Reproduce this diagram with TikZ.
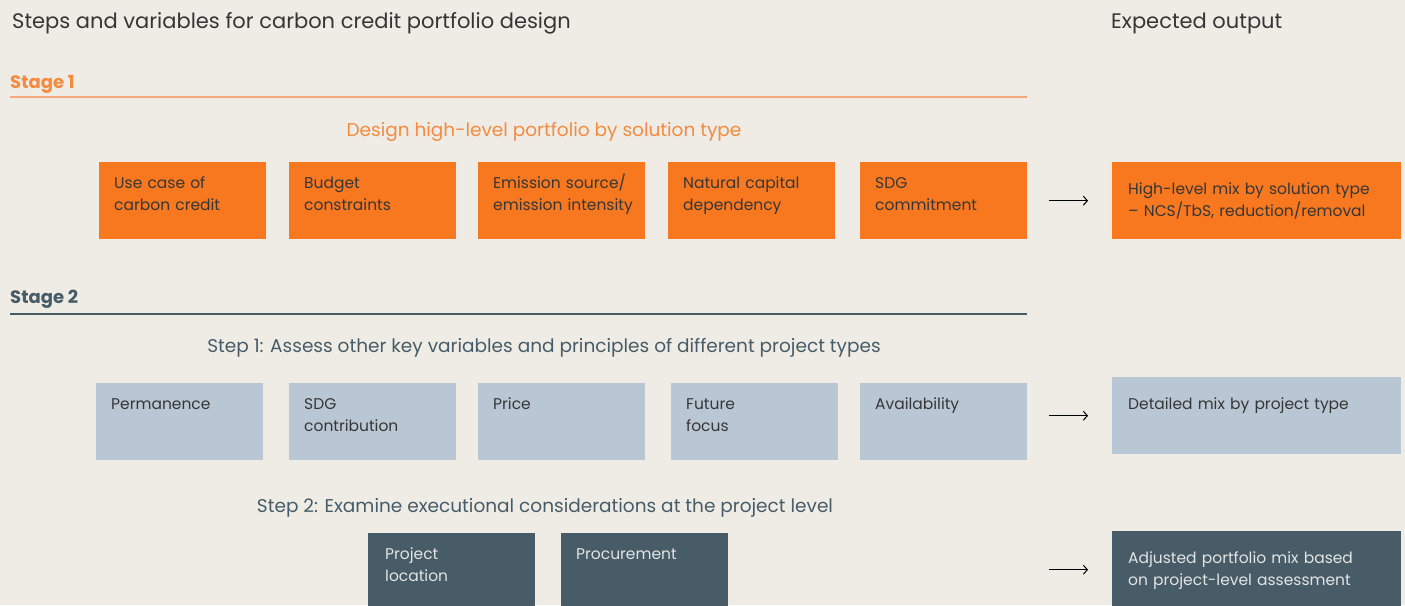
\documentclass[tikz,border=0pt]{standalone}
\usepackage{fontspec}
\setmainfont{Poppins}
\usetikzlibrary{positioning,arrows.meta}

\definecolor{paper}{HTML}{EFECE6}
\definecolor{carrot}{HTML}{F7781F}
\definecolor{peach}{HTML}{F4A97C}
\definecolor{tangerine}{HTML}{F68A3E}
\definecolor{mist}{HTML}{B9C7D4}
\definecolor{slate}{HTML}{475C66}
\definecolor{ink}{HTML}{363636}
\definecolor{chalk}{HTML}{E2E4E4}

\tikzset{
  heading/.style={anchor=base west,font=\fontsize{21}{25}\selectfont,text=ink,inner sep=0pt},
  stagelabel/.style={anchor=base west,font=\bfseries\fontsize{18}{20}\selectfont,inner sep=0pt},
  steplabel/.style={anchor=base,font=\fontsize{18.5}{22}\selectfont,inner sep=0pt},
  cell/.style={anchor=north west,minimum width=167pt,inner xsep=15pt,inner ysep=0pt,
    text width=137pt,align=left,text height=26pt,text depth=51pt,
    font=\fontsize{15.5}{22}\selectfont},
  outcell/.style={anchor=north west,minimum width=289pt,inner xsep=16pt,inner ysep=0pt,
    text width=257pt,align=left,text height=32pt,text depth=45pt,
    font=\fontsize{15.5}{22}\selectfont},
  hot/.style={fill=carrot,text=ink},
  cool/.style={fill=mist,text=ink},
  deep/.style={fill=slate,text=chalk},
  flow/.style={-{Straight Barb[length=4pt,width=9pt]},line width=1pt,shorten >=24pt}
}

\begin{document}
\begin{tikzpicture}[x=1pt,y=-1pt]
\fill[paper] (0,0) rectangle (1405,605);
\useasboundingbox (0,0) rectangle (1405,605);
\clip (0,0) rectangle (1405,605);

% titles
\node[heading] (title) at (12,28) {Steps and variables for carbon credit portfolio design};
\node[heading] (expected) at (1111,28) {Expected output};

% stage 1
\node[stagelabel,text=tangerine] (stage1) at (10,88) {Stage 1};
\draw[peach,line width=1.5pt] (10,97) -- (1027,97);
\node[steplabel,text=tangerine] (design) at (544,136) {Design high-level portfolio by solution type};

\node[cell,hot] (usecase) at (99,162) {Use case of\\carbon credit};
\node[cell,hot] (budget) at (289,162) {Budget\\constraints};
\node[cell,hot] (emission) at (478,162) {Emission source/\\\mbox{emission intensity}};
\node[cell,hot] (natcap) at (668,162) {Natural capital\\dependency};
\node[cell,hot] (sdgcom) at (860,162) {SDG\\commitment};
\node[outcell,hot] (mixsol) at (1112,162) {High-level mix by solution type\\-- NCS/TbS, reduction/removal};

% stage 2
\node[stagelabel,text=slate] (stage2) at (10,303) {Stage 2};
\draw[slate,line width=1.2pt] (10,314) -- (1027,314);
\node[steplabel,text=slate] (stepone) at (544,352) {Step 1: Assess other key variables and principles of different project types};

\node[cell,cool] (perm) at (96,383) {Permanence};
\node[cell,cool] (sdgcon) at (289,383) {SDG\\contribution};
\node[cell,cool] (price) at (478,383) {Price};
\node[cell,cool] (future) at (671,383) {Future\\focus};
\node[cell,cool] (avail) at (860,383) {Availability};
\node[outcell,cool] (mixproj) at (1112,377) {Detailed mix by project type};

\node[steplabel,text=slate] (steptwo) at (545,512) {Step 2: Examine executional considerations at the project level};

\node[cell,deep,inner xsep=17pt,text width=133pt] (location) at (368,533) {Project\\location};
\node[cell,deep] (procure) at (561,533) {Procurement};
\node[outcell,deep] (mixadj) at (1112,531) {Adjusted portfolio mix based\\on project-level assessment};

% arrows
\coordinate[left=63pt of mixsol.west] (insol);
\coordinate[left=63pt of mixproj.west] (inproj);
\coordinate[left=63pt of mixadj.west] (inadj);
\draw[flow] (insol) -- (mixsol.west);
\draw[flow] (inproj) -- (mixproj.west);
\draw[flow] (inadj) -- (mixadj.west);
\end{tikzpicture}
\end{document}
